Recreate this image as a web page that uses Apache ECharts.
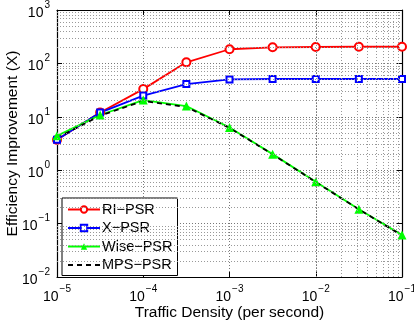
<!DOCTYPE html>
<html>
<head>
<meta charset="utf-8">
<script src="https://cdn.jsdelivr.net/npm/echarts@6/dist/echarts.min.js"></script>
<style>
  html, body { margin: 0; padding: 0; background: #fff; }
  #chart { width: 414px; height: 327px; }
</style>
</head>
<body>
<div id="chart"></div>
<script>
// traffic density (per second), half-decade steps
const density = [1e-5, 3.16e-5, 1e-4, 3.16e-4, 1e-3, 3.16e-3, 1e-2, 3.16e-2, 1e-1]

// efficiency improvement
const riPsr = [3.7, 12, 33, 105, 184, 200, 203, 205, 205]
const xPsr = [3.7, 12, 25, 41, 50, 51, 51, 51, 51]
const wisePsr = [4.4, 10.8, 20.6, 15.9, 6.3, 2.0, 0.61, 0.186, 0.061]
const mpsPsr = [4.0, 10.5, 19.8, 15.3, 6.2, 1.98, 0.6, 0.185, 0.06]

const xTicks = [1e-5, 1e-4, 1e-3, 1e-2, 1e-1]
const yTicks = [1e-2, 1e-1, 1, 10, 100, 1000]

const FONT = 'Liberation Sans'
const gridColor = '#777'

// minor grid values 2..9 inside each decade
function minorValues(ticks) {
  const out = []
  for (let i = 0; i < ticks.length - 1; i++) {
    for (let k = 2; k <= 9; k++) out.push(ticks[i] * k)
  }
  return out
}

function powLabel(v) {
  const e = Math.round(Math.log10(v))
  return '{b|10}{s|' + String(e).replace('-', '\u2212') + '}'
}

const richLabel = {
  b: { fontSize: 14, fontFamily: FONT, color: '#000', lineHeight: 20, verticalAlign: 'bottom' },
  s: { fontSize: 10, fontFamily: FONT, color: '#000', lineHeight: 20, verticalAlign: 'top', padding: [0, 0, 0, 1] }
}

const minorLines = minorValues(xTicks).map(v => ({ xAxis: v }))
  .concat(minorValues(yTicks).map(v => ({ yAxis: v })))

function logAxis(min, max, pos, showLabel) {
  return {
    type: 'log',
    logBase: 10,
    min: min,
    max: max,
    position: pos,
    axisLine: { show: true, onZero: false, lineStyle: { color: '#000', width: 1.2 } },
    axisTick: { show: true, inside: true, length: 5, lineStyle: { color: '#000' } },
    axisLabel: {
      show: showLabel,
      formatter: powLabel,
      rich: richLabel,
      margin: 7
    },
    splitLine: { show: showLabel, lineStyle: { color: gridColor, type: [1, 2], width: 1 } }
  }
}

const chart = echarts.init(document.getElementById('chart'), null, { renderer: 'canvas' })

const xMain = logAxis(1e-5, 1e-1, 'bottom', true)
xMain.name = 'Traffic Density (per second)'
xMain.nameLocation = 'middle'
xMain.nameGap = 28
xMain.nameMoveOverlap = false
xMain.nameTextStyle = { fontSize: 15.5, fontFamily: FONT, color: '#000' }

const yMain = logAxis(1e-2, 1e3, 'left', true)
yMain.name = 'Efficiency Improvement (X)'
yMain.nameLocation = 'middle'
yMain.nameGap = 36
yMain.nameRotate = 90
yMain.nameMoveOverlap = false
yMain.nameTextStyle = { fontSize: 15.5, fontFamily: FONT, color: '#000' }

function pairs(ys) {
  return density.map((x, i) => [x, ys[i]])
}

chart.setOption({
  animation: false,
  backgroundColor: '#fff',
  grid: { left: 57, right: 12, top: 10, bottom: 50, containLabel: false, outerBoundsMode: 'none' },
  xAxis: [xMain, logAxis(1e-5, 1e-1, 'top', false)],
  yAxis: [yMain, logAxis(1e-2, 1e3, 'right', false)],
  legend: {
    orient: 'vertical',
    left: 62,
    top: 198,
    itemWidth: 32,
    itemHeight: 8,
    itemGap: 3.5,
    padding: [4, 5, 3, 5],
    borderColor: '#000',
    borderWidth: 1,
    backgroundColor: '#fff',
    textStyle: { fontSize: 14.5, fontFamily: FONT, color: '#000', padding: [0, 0, 0, -3] },
    data: ['RI\u2212PSR', 'X\u2212PSR', 'Wise\u2212PSR', 'MPS\u2212PSR']
  },
  series: [
    {
      name: 'minor-grid',
      type: 'line',
      data: [],
      silent: true,
      markLine: {
        silent: true,
        symbol: 'none',
        label: { show: false },
        lineStyle: { color: '#999', type: [1, 2], width: 1 },
        data: minorLines
      }
    },
    {
      name: 'RI\u2212PSR',
      type: 'line',
      data: pairs(riPsr),
      color: '#ff0000',
      symbol: 'emptyCircle',
      symbolSize: 8,
      lineStyle: { width: 1.8 },
      itemStyle: { borderWidth: 1.6 }
    },
    {
      name: 'X\u2212PSR',
      type: 'line',
      data: pairs(xPsr),
      color: '#0000ff',
      symbol: 'emptyRect',
      symbolSize: 6,
      lineStyle: { width: 1.8 },
      itemStyle: { borderWidth: 1.6 }
    },
    {
      name: 'Wise\u2212PSR',
      type: 'line',
      data: pairs(wisePsr),
      color: '#00ff00',
      symbol: 'triangle',
      symbolSize: 9,
      lineStyle: { width: 1.8 }
    },
    {
      name: 'MPS\u2212PSR',
      type: 'line',
      data: pairs(mpsPsr),
      color: '#000',
      symbol: 'none',
      lineStyle: { width: 1.8, type: [5, 4] },
      itemStyle: { opacity: 0 }
    }
  ]
})
</script>
</body>
</html>
